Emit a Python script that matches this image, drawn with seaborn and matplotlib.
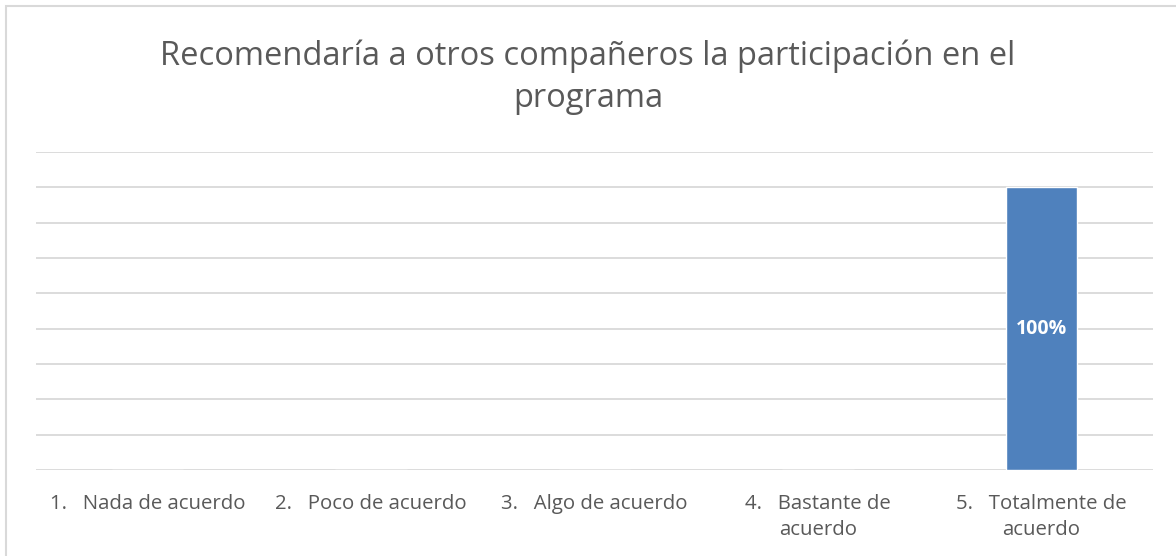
import seaborn as sns
import matplotlib.pyplot as plt
import pandas as pd
from matplotlib.patches import Rectangle

sns.set_theme(style="white")
plt.rcParams['font.family'] = ['Open Sans', 'DejaVu Sans']

categorias = ["1.   Nada de acuerdo", "2.   Poco de acuerdo", "3.   Algo de acuerdo",
              "4.   Bastante de\nacuerdo", "5.   Totalmente de\nacuerdo"]
valores = [0, 0, 0, 0, 1.0]
etiquetas = ["", "", "", "", "100%"]

df = pd.DataFrame({"categoria": categorias, "valor": valores})

fig = plt.figure(figsize=(11.76, 5.56), dpi=100)
ax = fig.add_axes([36/1176, 1 - 470/556, (1153-36)/1176, (470-152)/556])

sns.barplot(data=df, x="categoria", y="valor", color="#4F81BD", width=0.32,
            saturation=1, ax=ax)

ax.set_ylim(0, 1.125)
ax.set_yticks([i * 0.125 for i in range(10)])
ax.yaxis.grid(True, color="#D9D9D9", linewidth=1.3)
ax.set_axisbelow(True)
ax.tick_params(axis="y", left=False, labelleft=False)
ax.tick_params(axis="x", bottom=False, labelsize=14.7, labelcolor="#595959", pad=11)
for lbl in ax.get_xticklabels():
    lbl.set_linespacing(1.4)
for s in ax.spines.values():
    s.set_visible(False)
ax.set_xlabel("")
ax.set_ylabel("")

for p, txt in zip(ax.patches, etiquetas):
    if txt:
        ax.text(p.get_x() + p.get_width() / 2, p.get_height() / 2, txt,
                ha="center", va="center", color="white", fontsize=14, fontweight="bold")

fig.text(0.5, 1 - 77/556, "Recomendaría a otros compañeros la participación en el\nprograma",
         ha="center", va="center", fontsize=23.5, color="#595959", linespacing=1.35)

fig.patches.append(Rectangle((6/1176, -0.05), 1.1, 1 - 6/556 + 0.05, transform=fig.transFigure,
                             fill=False, edgecolor="#D9D9D9", linewidth=1.5))

fig.savefig("out.png", dpi=100)
